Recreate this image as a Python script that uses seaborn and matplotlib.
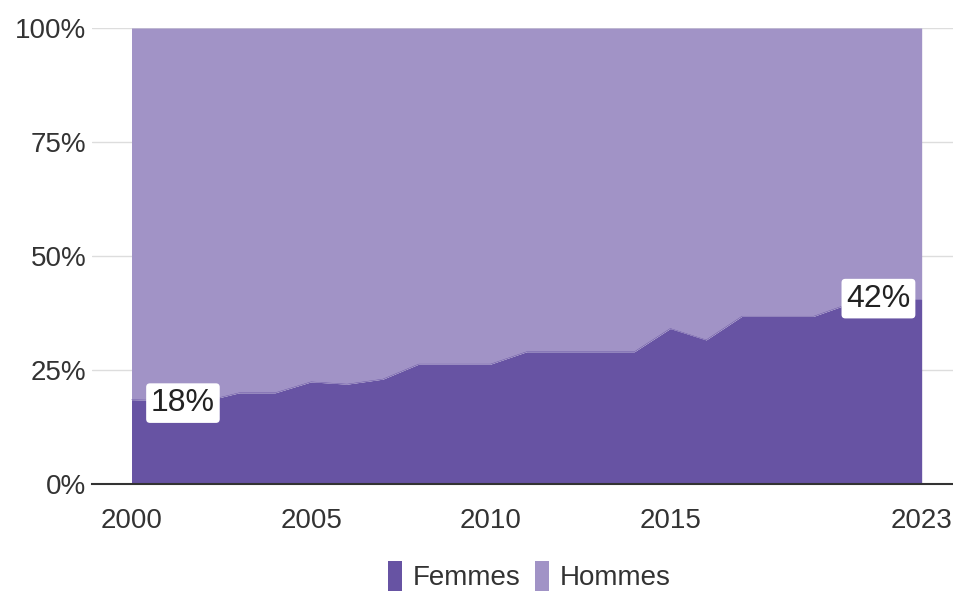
import matplotlib
matplotlib.use("Agg")
import matplotlib.pyplot as plt
from matplotlib.patches import Patch
import seaborn as sns
import pandas as pd

# ---- data ----
years = ["2000", "2001", "2002", "2003", "2004", "2005", "2006", "2007",
         "2008", "2009", "2010", "2011", "2012", "2013", "2014", "2015",
         "2016", "2017", "2018", "2019", "2020", "2021", "2023"]
femmes = [18.5, 18.3, 18.1, 20.0, 20.0, 22.4, 21.9, 23.0, 26.3, 26.3, 26.3,
          29.0, 29.0, 29.0, 29.0, 34.1, 31.6, 36.8, 36.8, 36.8, 39.6, 40.5, 40.5]
hommes = [81.5, 81.7, 81.9, 80.0, 80.0, 77.6, 78.1, 77.0, 73.7, 73.7, 73.7,
          71.0, 71.0, 71.0, 71.0, 65.9, 68.4, 63.2, 63.2, 63.2, 60.4, 59.5, 59.5]
series_names = ["Femmes", "Hommes"]
shown_years = ["2000", "2005", "2010", "2015", "2023"]
y_ticks = [0, 25, 50, 75, 100]
y_tick_labels = ["0%", "25%", "50%", "75%", "100%"]
annotations = [("2000", "18%"), ("2023", "42%")]

colors = {"Femmes": "#6753A3", "Hommes": "#A193C6"}

df = pd.DataFrame({"year": years, "Femmes": femmes, "Hommes": hommes})
df["idx"] = range(len(df))
df["top_f"] = df["Femmes"]
df["top_h"] = df["Femmes"] + df["Hommes"]

sns.set_theme(style="white")
plt.rcParams["font.family"] = ["Liberation Sans", "DejaVu Sans"]

fig = plt.figure(figsize=(9.54, 5.92), dpi=100)
ax = fig.add_axes([92 / 954, 1 - 484 / 592, 1 - 92 / 954, (484 - 28) / 592])

# stacked areas
ax.fill_between(df["idx"], 0, df["top_f"], color=colors["Femmes"], lw=0, zorder=2)
ax.fill_between(df["idx"], df["top_f"], df["top_h"], color=colors["Hommes"], lw=0, zorder=2)
sns.lineplot(data=df, x="idx", y="top_f", ax=ax, color=colors["Femmes"], lw=0.3, zorder=3)

ax.set_xlim(-1.1, len(years) - 1 + 0.9)
ax.set_ylim(0, 100)

ax.set_yticks(y_ticks)
ax.set_yticklabels(y_tick_labels)
xt = [years.index(y) for y in shown_years]
ax.set_xticks(xt)
ax.set_xticklabels(shown_years)
ax.tick_params(axis="both", length=0, labelsize=20, colors="#333333")
ax.tick_params(axis="x", pad=17)
ax.tick_params(axis="y", pad=4)
ax.set_xlabel("")
ax.set_ylabel("")

ax.grid(axis="y", color="#dddddd", lw=1, zorder=0)
ax.grid(axis="x", visible=False)
for s in ["top", "right", "left"]:
    ax.spines[s].set_visible(False)
ax.spines["bottom"].set_color("#333333")
ax.spines["bottom"].set_linewidth(1.5)
ax.spines["bottom"].set_zorder(5)

# annotations
bbox = dict(boxstyle="round,pad=0.15,rounding_size=0.12", fc="white", ec="none")
yr0, txt0 = annotations[0]
i0 = years.index(yr0)
ax.annotate(txt0, xy=(i0, femmes[i0]), xytext=(14, -2.5), textcoords="offset points",
            ha="left", va="center", fontsize=23, color="#222222", bbox=bbox, zorder=6)
yr1, txt1 = annotations[1]
i1 = years.index(yr1)
ax.annotate(txt1, xy=(i1, femmes[i1]), xytext=(-8, 0.5), textcoords="offset points",
            ha="right", va="center", fontsize=23, color="#222222", bbox=bbox, zorder=6)

handles = [Patch(facecolor=colors[n], edgecolor="none", label=n) for n in series_names]
fig.legend(handles=handles, loc="center", bbox_to_anchor=(0.555, 0.027), ncol=2,
           frameon=False, fontsize=20, handlelength=0.5, handleheight=1.3,
           handletextpad=0.4, columnspacing=0.5, labelcolor="#333333")

fig.savefig("out.png", dpi=100)
